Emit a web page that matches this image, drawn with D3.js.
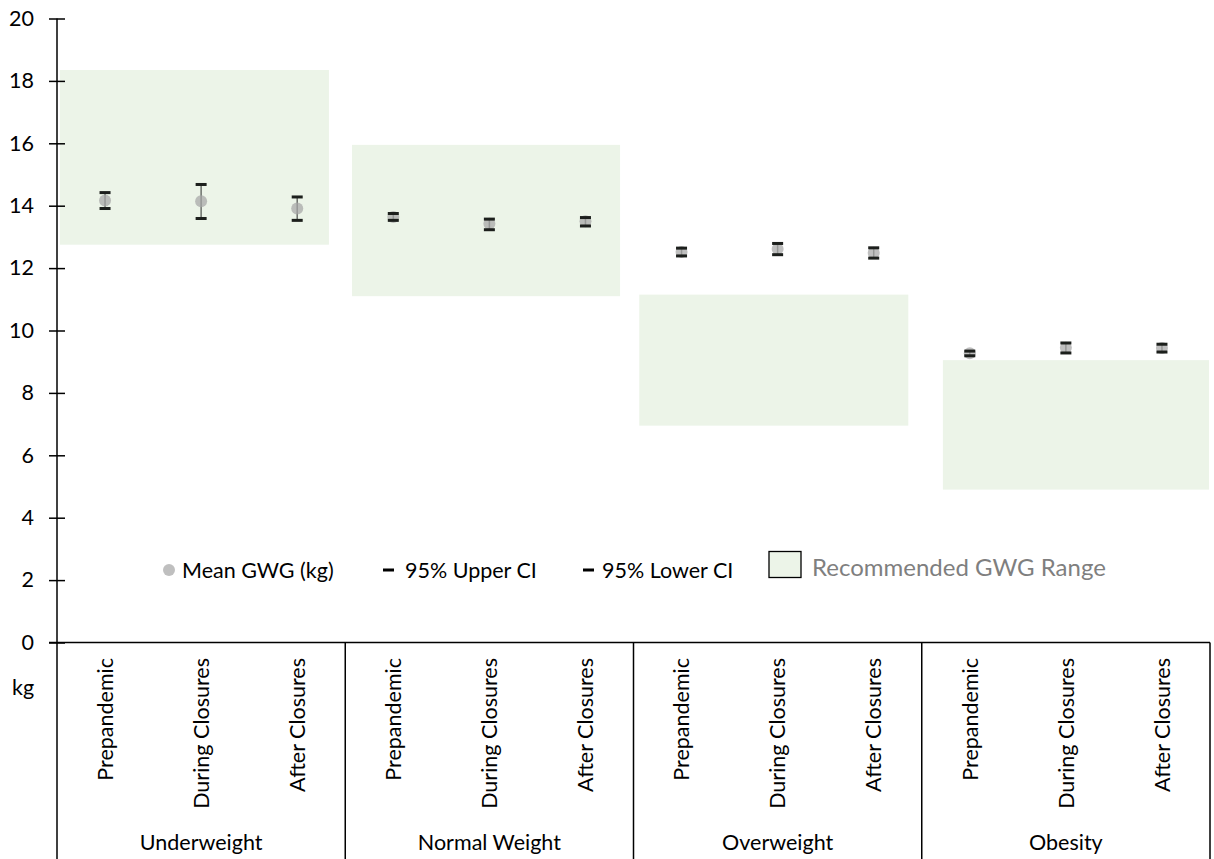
<!DOCTYPE html>
<html><head><meta charset="utf-8">
<script src="https://cdn.jsdelivr.net/npm/d3@7"></script>
<style>
html,body{margin:0;padding:0;background:#fff;}
text{font-family:Lato,"Open Sans",sans-serif;}
</style></head>
<body><svg id="c" width="1214" height="859"></svg>
<script>
const groups = ["Underweight","Normal Weight","Overweight","Obesity"];
const periods = ["Prepandemic","During Closures","After Closures"];
const meanGWG = [[14.17,14.14,13.91],[13.64,13.42,13.50],[12.52,12.61,12.49],[9.27,9.45,9.44]];
const upperCI = [[14.42,14.68,14.28],[13.75,13.57,13.62],[12.64,12.79,12.65],[9.34,9.60,9.56]];
const lowerCI = [[13.91,13.59,13.53],[13.53,13.23,13.35],[12.39,12.43,12.32],[9.19,9.28,9.31]];
const rangeLow = [12.75,11.1,6.95,4.9];
const rangeHigh = [18.35,15.95,11.15,9.05];
// horizontal extents of recommended boxes, in category-slot units (0..12)
const rangeStart = [0.03,3.07,6.06,9.22];
const rangeEnd = [2.83,5.86,8.86,11.99];
const yTicks = [0,2,4,6,8,10,12,14,16,18,20];
const legendLabels = ["Mean GWG (kg)","95% Upper CI","95% Lower CI","Recommended GWG Range"];

const svg = d3.select("#c");
const FS = "21.5px";
const x0 = 57, x1 = 1210;
const y = d3.scaleLinear().domain([0,20]).range([642.5,18.5]);
const xs = d3.scaleLinear().domain([0,12]).range([x0,x1]);
const xg = d3.scaleBand().domain(groups).range([x0,x1]);
const xc = d3.scaleBand().domain(periods).range([0,xg.bandwidth()]);
const green = "#ecf4e8";

// recommended ranges
svg.append("g").selectAll("rect").data(groups).join("rect")
  .attr("x",(d,i)=>xs(rangeStart[i])).attr("width",(d,i)=>xs(rangeEnd[i])-xs(rangeStart[i]))
  .attr("y",(d,i)=>y(rangeHigh[i])).attr("height",(d,i)=>y(rangeLow[i])-y(rangeHigh[i]))
  .attr("fill",green);

// y axis
const yAxis = svg.append("g").attr("transform",`translate(${x0},0)`)
  .call(d3.axisLeft(y).tickValues(yTicks).tickSize(8).tickPadding(6).tickFormat(d3.format("d")));
yAxis.select(".domain").remove();
yAxis.selectAll(".tick line").attr("x2",8).attr("x1",-8).attr("stroke","#000").attr("stroke-width",1.5);
yAxis.selectAll(".tick text").attr("x",-23).attr("font-size",FS).attr("fill","#000")
  .attr("font-family","Lato,sans-serif");
svg.append("line").attr("x1",x0).attr("x2",x0).attr("y1",y(20)).attr("y2",859)
  .attr("stroke","#000").attr("stroke-width",1.5);
svg.append("line").attr("x1",49).attr("x2",x1).attr("y1",y(0)).attr("y2",y(0))
  .attr("stroke","#000").attr("stroke-width",1.5);

// group separators
svg.append("g").selectAll("line").data(groups.slice(1).concat(["end"])).join("line")
  .attr("x1",(d,i)=>i<3?xg(groups[i+1]):x1).attr("x2",(d,i)=>i<3?xg(groups[i+1]):x1)
  .attr("y1",y(0)).attr("y2",859).attr("stroke","#000").attr("stroke-width",1.5);

// category labels
groups.forEach((g,gi)=>{
  const gg = svg.append("g").attr("transform",`translate(${xg(g)},0)`);
  gg.selectAll("text").data(periods).join("text")
    .attr("transform",p=>`translate(${xc(p)+xc.bandwidth()/2},${658}) rotate(-90)`)
    .attr("text-anchor","end").attr("dy","0.36em").attr("font-size",FS).attr("fill","#000")
    .text(p=>p);
  svg.append("text").attr("x",xg(g)+xg.bandwidth()/2).attr("y",850)
    .attr("text-anchor","middle").attr("font-size",FS).attr("fill","#000").text(g);
});
svg.append("text").attr("x",12).attr("y",695).attr("font-size",FS).attr("fill","#000").text("kg");

// points & error bars
const pts = [];
groups.forEach((g,gi)=>periods.forEach((p,pi)=>pts.push({
  cx: xg(g)+xc(p)+xc.bandwidth()/2, m: meanGWG[gi][pi], u: upperCI[gi][pi], l: lowerCI[gi][pi]})));
const pg = svg.append("g");
pg.selectAll("line.eb").data(pts).join("line").attr("class","eb")
  .attr("x1",d=>d.cx).attr("x2",d=>d.cx).attr("y1",d=>y(d.u)).attr("y2",d=>y(d.l))
  .attr("stroke","#6b6f6b").attr("stroke-width",1.5);
pg.selectAll("circle").data(pts).join("circle")
  .attr("cx",d=>d.cx).attr("cy",d=>y(d.m)).attr("r",6).attr("fill","#a6a6a6").attr("fill-opacity",0.72);
pg.selectAll("rect.up").data(pts).join("rect").attr("class","up")
  .attr("x",d=>d.cx-5.5).attr("width",11).attr("y",d=>y(d.u)-1.5).attr("height",3).attr("fill","#1c1f1c");
pg.selectAll("rect.lo").data(pts).join("rect").attr("class","lo")
  .attr("x",d=>d.cx-5.5).attr("width",11).attr("y",d=>y(d.l)-1.5).attr("height",3).attr("fill","#1c1f1c");

// legend
const ly = 570;
const lg = svg.append("g");
lg.append("circle").attr("cx",169).attr("cy",ly).attr("r",6).attr("fill","#a6a6a6").attr("fill-opacity",0.72);
lg.append("text").attr("x",182).attr("y",ly).attr("dy","0.36em").attr("font-size",FS).text(legendLabels[0]);
lg.append("rect").attr("x",383).attr("y",ly-1.5).attr("width",11).attr("height",3).attr("fill","#000");
lg.append("text").attr("x",405).attr("y",ly).attr("dy","0.36em").attr("font-size",FS).text(legendLabels[1]);
lg.append("rect").attr("x",583).attr("y",ly-1.5).attr("width",11).attr("height",3).attr("fill","#000");
lg.append("text").attr("x",602).attr("y",ly).attr("dy","0.36em").attr("font-size",FS).text(legendLabels[2]);
lg.append("rect").attr("x",769).attr("y",551.5).attr("width",32).attr("height",26)
  .attr("fill",green).attr("stroke","#000").attr("stroke-width",1.3);
lg.append("text").attr("x",812).attr("y",ly-3).attr("dy","0.36em").attr("font-size","24px").attr("fill","#7f7f7f").text(legendLabels[3]);
</script></body></html>
